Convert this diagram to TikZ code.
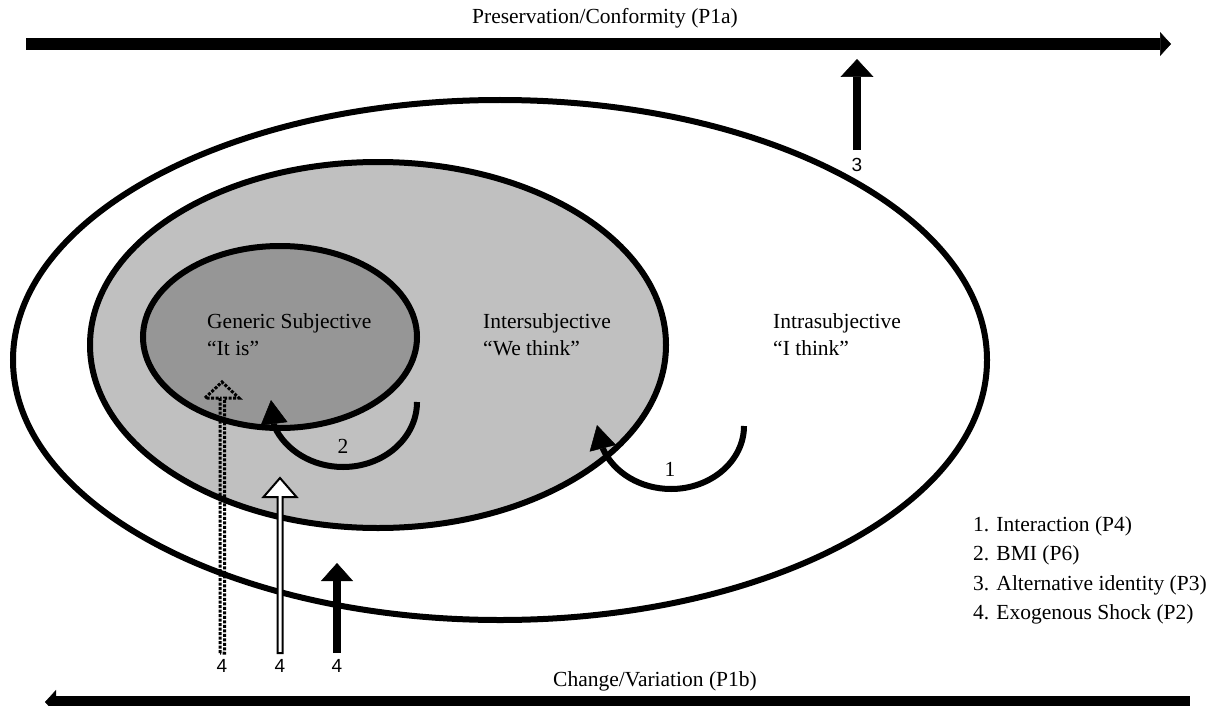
\documentclass[tikz,border=0pt]{standalone}
\usepackage{fontspec}
\setmainfont{Liberation Serif}
\newfontfamily\numsans{Liberation Sans}
\usepackage{tikz}
\usetikzlibrary{arrows.meta}
\definecolor{intergray}{RGB}{192,192,192}
\definecolor{genericgray}{RGB}{150,150,150}

\begin{document}
\begin{tikzpicture}[x=1pt, y=-1pt,
  ring/.style={draw=black, line width=6pt},
  txt/.style={font=\fontsize{21.5}{27}\selectfont, align=left, inner sep=0pt},
  num/.style={font=\numsans\fontsize{19}{22}\selectfont, inner sep=0pt},
  bar/.style={line width=12pt, -{Triangle[length=11pt, width=24pt, line width=0.5pt]}},
  curvearrow/.style={line width=6pt, -{Triangle[length=24pt, width=27pt, line width=0.5pt]}},
  shock/.style={line width=7.5pt, -{Triangle[length=18pt, width=32pt, line width=0.5pt]}},
  hollow/.style={draw=black, line width=2pt, fill=white},
  dottedshock/.style={draw=black, line width=3pt, dash pattern=on 3pt off 1.5pt},
]
\useasboundingbox (0,0) rectangle (1212,706);

% nested identity levels
\draw[ring, fill=white]       (500,360) ellipse[x radius=487, y radius=260];
\draw[ring, fill=intergray]   (378,345) ellipse[x radius=288, y radius=183];
\draw[ring, fill=genericgray] (280,337) ellipse[x radius=137, y radius=91];

\node[txt, anchor=north west] (generic) at (207,313) {Generic Subjective\\“It is”};
\node[txt, anchor=north west] (inter)   at (483,313) {Intersubjective\\“We think”};
\node[txt, anchor=north west] (intra)   at (773,313) {Intrasubjective\\“I think”};

% axis arrows
\node[txt] (pres) at (605,18)  {Preservation/Conformity (P1a)};
\node[txt] (chg)  at (655,681) {Change/Variation (P1b)};
\coordinate (presL) at (26,44);
\coordinate (presR) at (1171,44);
\coordinate (chgR)  at (1190,702);
\coordinate (chgL)  at (45,702);
\draw[bar] (presL) -- (presR);
\draw[bar] (chgR) -- (chgL);

% 1. interaction, 2. BMI
\draw[curvearrow] (744,426) arc[start angle=0, end angle=158.7, x radius=73, y radius=63] -- (597,425);
\node[txt] (one) at (670,469) {1};
\draw[curvearrow] (417,402) arc[start angle=0, end angle=158, x radius=74, y radius=65] -- (271,400);
\node[txt] (two) at (343,446) {2};

% 3. alternative identity
\coordinate (altS) at (857,150);
\coordinate (altT) at (857,59);
\draw[shock, line width=8.5pt, -{Triangle[length=18pt, width=33pt, line width=0.5pt]}] (altS) -- (altT);
\node[num] (three) at (857,165) {3};

% 4. exogenous shocks
\draw[dottedshock] (220,653) -- (220,398) -- (205,398) -- (222,382) -- (239,398) -- (224.5,398) -- (224.5,653) -- cycle;
\draw[hollow] (277.5,653) -- (277.5,497) -- (263.5,497) -- (280,478) -- (296.5,497) -- (282.5,497) -- (282.5,653) -- cycle;
\coordinate (shockS) at (337,653);
\coordinate (shockT) at (337,563);
\draw[shock] (shockS) -- (shockT);
\node[num] (fourA) at (222,666) {4};
\node[num] (fourB) at (280,666) {4};
\node[num] (fourC) at (337,666) {4};

% legend
\node[font=\fontsize{21.5}{29.5}\selectfont, align=left, inner sep=0pt, anchor=north west] (legend) at (973,516)
  {1. Interaction (P4)\\2. BMI (P6)\\3. Alternative identity (P3)\\4. Exogenous Shock (P2)};
\end{tikzpicture}
\end{document}
